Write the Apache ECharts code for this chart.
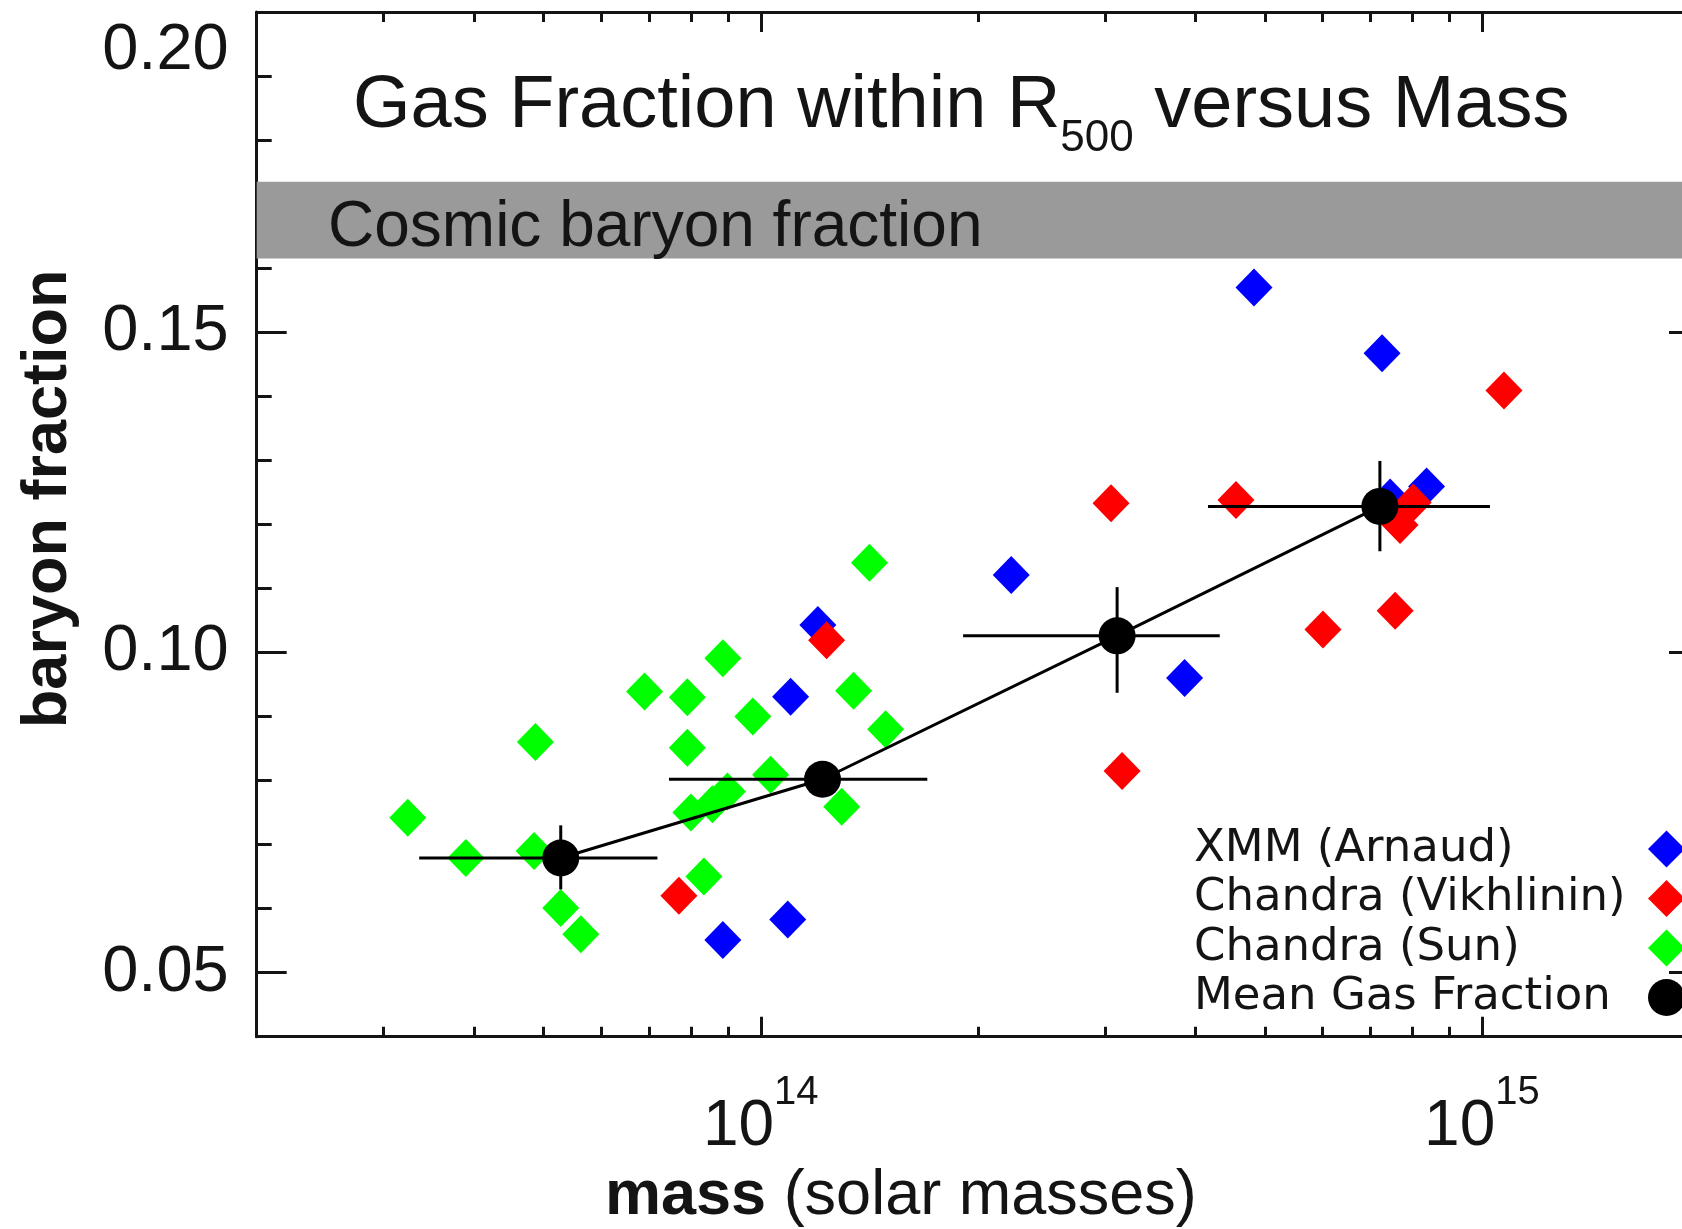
<!DOCTYPE html>
<html>
<head>
<meta charset="utf-8">
<script src="https://cdn.jsdelivr.net/npm/echarts@6/dist/echarts.min.js"></script>
<style>
  html, body { margin: 0; padding: 0; background: #ffffff; }
  #chart { width: 1682px; height: 1229px; }
</style>
</head>
<body>
<div id="chart"></div>
<script>
// Cluster gas fractions within R500: [mass (solar masses), gas fraction]
const xmmArnaud = [
  [4.83e14, 0.1570], [7.27e14, 0.1467], [8.38e14, 0.1259], [7.46e14, 0.1242],
  [2.225e14, 0.1121], [3.87e14, 0.0960], [1.20e14, 0.1043], [1.10e14, 0.0931],
  [1.09e14, 0.0583], [8.86e13, 0.0551]
];
const chandraVikhlinin = [
  [1.073e15, 0.1409], [3.06e14, 0.1233], [4.56e14, 0.1238], [8.03e14, 0.1234],
  [7.70e14, 0.1199], [6.02e14, 0.1036], [7.58e14, 0.1065], [3.17e14, 0.0815],
  [1.234e14, 0.1019], [7.70e13, 0.0620]
];
const chandraSun = [
  [3.24e13, 0.0742], [3.90e13, 0.0679], [4.87e13, 0.0860], [4.85e13, 0.0690],
  [5.28e13, 0.0601], [5.63e13, 0.0560], [6.90e13, 0.0939], [7.91e13, 0.0930],
  [8.86e13, 0.0991], [7.91e13, 0.0851], [9.75e13, 0.0900], [1.415e14, 0.1140],
  [1.345e14, 0.0940], [1.490e14, 0.0880], [1.032e14, 0.0809], [8.00e13, 0.0750],
  [8.57e13, 0.0763], [8.99e13, 0.0783], [1.295e14, 0.0759], [8.34e13, 0.0650]
];

// Binned means with their ranges
const meanMass = [5.28e13, 1.218e14, 3.12e14, 7.22e14];
const meanFgas = [0.0679, 0.0802, 0.1026, 0.1228];
const massLow  = [3.36e13, 7.46e13, 1.908e14, 4.17e14];
const massHigh = [7.19e13, 1.702e14, 4.33e14, 1.026e15];
const fgasLow  = [0.0630, 0.0777, 0.0937, 0.1158];
const fgasHigh = [0.0730, 0.0827, 0.1102, 0.1299];

// Cosmic baryon fraction band
const cosmicBand = [0.1615, 0.1735];

// Axis ticks
const majorMassTicks = [1e14, 1e15];
const minorMassTicks = [3e13, 4e13, 5e13, 6e13, 7e13, 8e13, 9e13,
                        2e14, 3e14, 4e14, 5e14, 6e14, 7e14, 8e14, 9e14];
const fgasTicks = [0.05, 0.10, 0.15, 0.20];

const seriesNames = ['XMM (Arnaud)', 'Chandra (Vikhlinin)', 'Chandra (Sun)', 'Mean Gas Fraction'];

const INK = '#141414';
const FONT = 'Liberation Sans';
const lineStyle = { color: INK, width: 3 };

function xAxisDef(position, ticks, len, withLine, withLabels) {
  const a = {
    type: 'log', logBase: 10, min: 2e13, max: 2e15, position: position,
    splitLine: { show: false },
    axisLine: { show: withLine, onZero: false, lineStyle: lineStyle },
    axisTick: { show: true, inside: true, length: len, customValues: ticks, lineStyle: { color: INK, width: 3 } },
    axisLabel: { show: false }
  };
  if (withLabels) {
    a.axisLabel = {
      show: true, customValues: majorMassTicks, margin: 36,
      formatter: v => '{b|10}{s|' + Math.round(Math.log10(v)) + '}',
      rich: {
        b: { fontFamily: FONT, fontSize: 64, lineHeight: 70, color: INK, verticalAlign: 'top', padding: [23, 0, 0, 0] },
        s: { fontFamily: FONT, fontSize: 40, lineHeight: 40, color: INK, verticalAlign: 'top' }
      }
    };
    a.name = '{b|mass} (solar masses)';
    a.nameLocation = 'middle';
    a.nameGap = 128;
    a.nameTextStyle = {
      fontFamily: FONT, fontSize: 63, color: INK, padding: [0, 154, 0, 0],
      rich: { b: { fontFamily: FONT, fontSize: 63, fontWeight: 'bold', color: INK } }
    };
  }
  return a;
}

function yAxisDef(position, ticks, len, withLine, withLabels) {
  const a = {
    type: 'value', min: 0.04, max: 0.20, interval: 0.01, position: position,
    splitLine: { show: false },
    axisLine: { show: withLine, onZero: false, lineStyle: lineStyle },
    axisTick: { show: true, inside: true, length: len, lineStyle: { color: INK, width: 3 } },
    axisLabel: { show: false }
  };
  if (ticks) a.axisTick.customValues = ticks;
  if (withLabels) {
    a.axisLabel = {
      show: true, customValues: fgasTicks, margin: 28,
      formatter: v => Math.abs(v - 0.20) < 1e-9 ? '{t|' + v.toFixed(2) + '}' : '{n|' + v.toFixed(2) + '}',
      rich: {
        n: { fontFamily: FONT, fontSize: 65, lineHeight: 65, color: INK },
        t: { fontFamily: FONT, fontSize: 65, lineHeight: 65, color: INK, padding: [78, 0, 0, 0] }
      }
    };
    a.name = 'baryon fraction';
    a.nameLocation = 'middle';
    a.nameGap = 177;
    a.nameTextStyle = { fontFamily: FONT, fontSize: 63, fontWeight: 'bold', color: INK, padding: [0, 0, 0, 51] };
  }
  return a;
}

const errorBarData = meanMass.map((m, i) => [m, meanFgas[i], massLow[i], massHigh[i], fgasLow[i], fgasHigh[i]]);

const chart = echarts.init(document.getElementById('chart'), null, { renderer: 'canvas' });

chart.setOption({
  animation: false,
  backgroundColor: '#ffffff',
  title: {
    text: '{n|Gas Fraction within R}{sub|500}{n| versus Mass}',
    left: 353, top: 69.5, padding: 0,
    textStyle: {
      fontWeight: 'normal', fontFamily: FONT, color: INK,
      rich: {
        n: { fontFamily: FONT, fontSize: 74, fontWeight: 'normal', lineHeight: 74, color: INK, verticalAlign: 'top' },
        sub: { fontFamily: FONT, fontSize: 44, fontWeight: 'normal', lineHeight: 44, color: INK, verticalAlign: 'top', padding: [47, 0, 0, 0] }
      }
    }
  },
  legend: {
    orient: 'vertical', align: 'right', left: 1194, top: 826.5, padding: 0,
    itemGap: 4.5, itemWidth: 37, itemHeight: 37, selectedMode: false,
    data: [
      { name: seriesNames[0], icon: 'diamond' },
      { name: seriesNames[1], icon: 'diamond' },
      { name: seriesNames[2], icon: 'diamond' },
      { name: seriesNames[3], icon: 'circle' }
    ],
    formatter: name => '{t|' + name + '}',
    textStyle: {
      rich: { t: { width: 449, align: 'left', fontFamily: 'DejaVu Sans', fontSize: 45, lineHeight: 37, color: INK } }
    }
  },
  grid: { left: 256.7, top: 12, right: -17, bottom: 192.3, containLabel: false, outerBoundsMode: 'none' },
  xAxis: [
    xAxisDef('bottom', minorMassTicks, 10, true, true),
    xAxisDef('bottom', majorMassTicks, 20, false, false),
    xAxisDef('top', minorMassTicks, 10, true, false),
    xAxisDef('top', majorMassTicks, 20, false, false)
  ],
  yAxis: [
    yAxisDef('left', null, 15, true, true),
    yAxisDef('left', fgasTicks, 30, false, false),
    yAxisDef('right', null, 17, true, false),
    yAxisDef('right', fgasTicks, 30, false, false)
  ],
  series: [
    {
      name: 'cosmic', type: 'scatter', data: [], z: 1, silent: true,
      markArea: {
        silent: true,
        itemStyle: { color: '#9a9a9a', opacity: 1, borderWidth: 0 },
        label: {
          show: true, position: [71.3, 47], align: 'left', verticalAlign: 'middle',
          formatter: 'Cosmic baryon fraction',
          fontFamily: FONT, fontSize: 64, color: INK
        },
        data: [[{ yAxis: cosmicBand[0] }, { yAxis: cosmicBand[1] }]]
      }
    },
    {
      name: seriesNames[0], type: 'scatter', data: xmmArnaud, z: 2,
      symbol: 'diamond', symbolSize: [37, 38], itemStyle: { color: '#0000ff', opacity: 1 }
    },
    {
      name: seriesNames[1], type: 'scatter', data: chandraVikhlinin, z: 2,
      symbol: 'diamond', symbolSize: [37, 38], itemStyle: { color: '#ff0000', opacity: 1 }
    },
    {
      name: seriesNames[2], type: 'scatter', data: chandraSun, z: 2,
      symbol: 'diamond', symbolSize: [37, 38], itemStyle: { color: '#00ff00', opacity: 1 }
    },
    {
      name: 'trend', type: 'line', z: 3, symbol: 'none', silent: true,
      data: meanMass.map((m, i) => [m, meanFgas[i]]),
      lineStyle: { color: '#000000', width: 3 }
    },
    {
      name: 'errors', type: 'custom', z: 3, silent: true,
      data: errorBarData,
      renderItem: (params, api) => {
        const y = api.value(1);
        const left = api.coord([api.value(2), y]);
        const right = api.coord([api.value(3), y]);
        const top = api.coord([api.value(0), api.value(5)]);
        const bottom = api.coord([api.value(0), api.value(4)]);
        const st = { stroke: '#000000', lineWidth: 3 };
        return {
          type: 'group',
          children: [
            { type: 'line', shape: { x1: left[0], y1: left[1], x2: right[0], y2: right[1] }, style: st },
            { type: 'line', shape: { x1: top[0], y1: top[1], x2: bottom[0], y2: bottom[1] }, style: st }
          ]
        };
      }
    },
    {
      name: seriesNames[3], type: 'scatter', z: 4,
      data: meanMass.map((m, i) => [m, meanFgas[i]]),
      symbol: 'circle', symbolSize: 37, itemStyle: { color: '#000000', opacity: 1 }
    }
  ]
});
</script>
</body>
</html>
